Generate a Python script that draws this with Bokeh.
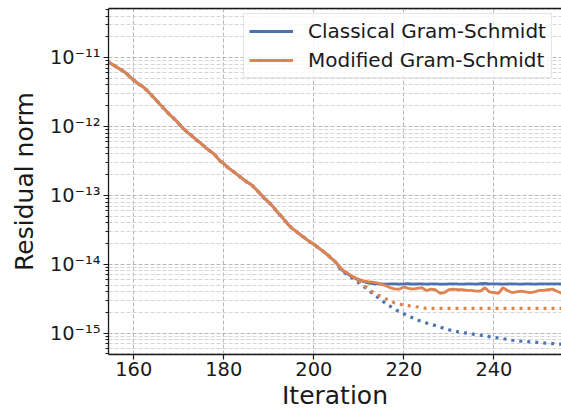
from bokeh.plotting import figure
from bokeh.models import (FixedTicker, CustomJSTickFormatter, Range1d, Legend,
                          LegendItem, LinearAxis)
from bokeh.embed import file_html
from bokeh.resources import INLINE

# ---- data ----
start_iteration = 154
# shared part of all curves, iterations 154..205
common_head = [8.91e-12, 8.13e-12, 7.41e-12, 6.76e-12, 6.17e-12, 5.37e-12, 4.68e-12,
               4.17e-12, 3.80e-12, 3.31e-12, 2.82e-12, 2.40e-12, 2.04e-12, 1.74e-12,
               1.48e-12, 1.29e-12, 1.10e-12, 9.33e-13, 8.13e-13, 7.24e-13, 6.31e-13,
               5.62e-13, 4.90e-13, 4.37e-13, 3.89e-13, 3.24e-13, 2.88e-13, 2.51e-13,
               2.24e-13, 2.00e-13, 1.78e-13, 1.58e-13, 1.45e-13, 1.26e-13, 1.07e-13,
               9.12e-14, 7.94e-14, 6.76e-14, 5.62e-14, 4.79e-14, 3.98e-14, 3.39e-14,
               3.02e-14, 2.69e-14, 2.40e-14, 2.14e-14, 1.95e-14, 1.74e-14, 1.55e-14,
               1.38e-14, 1.20e-14, 1.05e-14]
# tails, iterations 206..255
cgs_tail = [8.51e-15, 7.59e-15, 6.92e-15, 6.31e-15, 5.89e-15, 5.62e-15, 5.37e-15,
            5.25e-15, 5.19e-15, 5.20e-15, 5.16e-15, 5.21e-15, 5.18e-15, 5.15e-15,
            5.20e-15, 5.22e-15, 5.17e-15, 5.19e-15, 5.21e-15, 5.16e-15, 5.18e-15,
            5.20e-15, 5.17e-15, 5.15e-15, 5.19e-15, 5.21e-15, 5.18e-15, 5.16e-15,
            5.20e-15, 5.19e-15, 5.17e-15, 5.22e-15, 5.26e-15, 5.21e-15, 5.18e-15,
            5.20e-15, 5.17e-15, 5.19e-15, 5.21e-15, 5.18e-15, 5.16e-15, 5.20e-15,
            5.19e-15, 5.17e-15, 5.21e-15, 5.20e-15, 5.18e-15, 5.19e-15, 5.21e-15,
            5.20e-15]
mgs_tail = [8.71e-15, 7.76e-15, 7.08e-15, 6.46e-15, 6.03e-15, 5.75e-15, 5.62e-15,
            5.50e-15, 5.37e-15, 5.13e-15, 4.90e-15, 4.57e-15, 4.37e-15, 4.37e-15,
            4.68e-15, 4.47e-15, 4.37e-15, 4.47e-15, 4.57e-15, 4.17e-15, 4.37e-15,
            4.27e-15, 3.80e-15, 3.89e-15, 4.27e-15, 4.37e-15, 4.27e-15, 4.27e-15,
            4.17e-15, 4.17e-15, 4.07e-15, 4.07e-15, 4.57e-15, 3.98e-15, 3.89e-15,
            3.80e-15, 4.57e-15, 4.17e-15, 3.89e-15, 3.98e-15, 4.07e-15, 3.98e-15,
            3.89e-15, 3.98e-15, 4.17e-15, 4.17e-15, 4.27e-15, 4.37e-15, 4.07e-15,
            3.80e-15]
cgs_dotted_tail = [8.13e-15, 7.41e-15, 6.61e-15, 6.03e-15, 5.37e-15, 4.79e-15, 4.27e-15,
                   3.80e-15, 3.39e-15, 3.02e-15, 2.69e-15, 2.45e-15, 2.24e-15, 2.04e-15,
                   1.91e-15, 1.78e-15, 1.66e-15, 1.55e-15, 1.48e-15, 1.41e-15, 1.35e-15,
                   1.29e-15, 1.23e-15, 1.17e-15, 1.12e-15, 1.10e-15, 1.05e-15, 1.02e-15,
                   1.00e-15, 9.77e-16, 9.55e-16, 9.33e-16, 9.12e-16, 8.91e-16, 8.71e-16,
                   8.51e-16, 8.32e-16, 8.13e-16, 7.94e-16, 7.76e-16, 7.67e-16, 7.59e-16,
                   7.50e-16, 7.41e-16, 7.33e-16, 7.24e-16, 7.16e-16, 7.08e-16, 7.00e-16,
                   6.92e-16]
mgs_dotted_tail = [8.71e-15, 7.76e-15, 7.08e-15, 6.31e-15, 5.62e-15, 5.01e-15, 4.47e-15,
                   3.98e-15, 3.63e-15, 3.39e-15, 3.16e-15, 2.95e-15, 2.75e-15, 2.63e-15,
                   2.57e-15, 2.51e-15, 2.45e-15, 2.40e-15, 2.34e-15, 2.29e-15, 2.29e-15,
                   2.29e-15, 2.29e-15, 2.29e-15, 2.29e-15, 2.29e-15, 2.29e-15, 2.29e-15,
                   2.29e-15, 2.29e-15, 2.29e-15, 2.29e-15, 2.29e-15, 2.29e-15, 2.29e-15,
                   2.29e-15, 2.29e-15, 2.29e-15, 2.29e-15, 2.29e-15, 2.29e-15, 2.29e-15,
                   2.29e-15, 2.29e-15, 2.29e-15, 2.29e-15, 2.29e-15, 2.29e-15, 2.29e-15,
                   2.29e-15]
x_ticks = [160, 180, 200, 220, 240]
y_ticks = [1e-15, 1e-14, 1e-13, 1e-12, 1e-11]
y_minor_ticks = [m * d for d in [1e-16, 1e-15, 1e-14, 1e-13, 1e-12, 1e-11]
                 for m in range(2, 10)]
labels = ["Classical Gram-Schmidt", "Modified Gram-Schmidt"]

cgs = common_head + cgs_tail
mgs = common_head + mgs_tail
cgs_dot = common_head + cgs_dotted_tail
mgs_dot = common_head + mgs_dotted_tail
iterations = list(range(start_iteration, start_iteration + len(cgs)))

BLUE = "#4C72B0"
ORANGE = "#DD8452"
FONT = "DejaVu Sans"
TXT = "#1a1a1a"

p = figure(width=561, height=412, y_axis_type="log",
           x_range=Range1d(154.4, 255.0), y_range=Range1d(4.91e-16, 5.14e-11),
           output_backend="svg", toolbar_location=None)
p.min_border_left = 108
p.min_border_right = 0
p.min_border_top = 8
p.min_border_bottom = 58
p.outline_line_color = None
p.background_fill_color = "white"
p.border_fill_color = "white"

# axes
for ax in (p.xaxis[0], p.yaxis[0]):
    ax.axis_line_color = TXT
    ax.axis_line_width = 1.3
    ax.major_tick_line_color = TXT
    ax.major_tick_line_width = 1.2
    ax.major_tick_out = 5
    ax.major_tick_in = 0
    ax.major_label_text_font = FONT
    ax.major_label_text_font_size = "19.4px"
    ax.major_label_text_color = TXT
    ax.axis_label_text_font = FONT
    ax.axis_label_text_font_size = "25px"
    ax.axis_label_text_font_style = "normal"
    ax.axis_label_text_color = TXT

p.xaxis.ticker = FixedTicker(ticks=x_ticks)
p.xaxis.minor_tick_line_color = None
p.xaxis.major_label_standoff = 2
p.xaxis.axis_label = "Iteration"
p.xaxis.axis_label_standoff = 2

p.yaxis.ticker = FixedTicker(ticks=y_ticks, minor_ticks=y_minor_ticks)
p.yaxis.minor_tick_line_color = TXT
p.yaxis.minor_tick_line_width = 1.0
p.yaxis.minor_tick_out = 3
p.yaxis.minor_tick_in = 0
p.yaxis.major_label_standoff = 3
p.yaxis.axis_label = "Residual norm"
p.yaxis.axis_label_standoff = 8
p.yaxis.formatter = CustomJSTickFormatter(code="""
const e = Math.round(Math.log10(tick));
const m = {'-':'\u207b','0':'\u2070','1':'\u00b9','2':'\u00b2','3':'\u00b3',
           '4':'\u2074','5':'\u2075','6':'\u2076','7':'\u2077','8':'\u2078','9':'\u2079'};
return '10' + String(e).split('').map(c => m[c]).join('');
""")

top = LinearAxis(ticker=FixedTicker(ticks=[]), axis_line_color=TXT, axis_line_width=1.3,
                 major_tick_line_color=None, minor_tick_line_color=None,
                 major_label_text_font_size="0px", major_label_standoff=0)
p.add_layout(top, "above")

# grids
p.xgrid.grid_line_color = "#b0b0b0"
p.xgrid.grid_line_dash = "4 2"
p.xgrid.grid_line_width = 0.9
p.ygrid.grid_line_color = "#b0b0b0"
p.ygrid.grid_line_dash = "4 2"
p.ygrid.grid_line_width = 0.9
p.ygrid.minor_grid_line_color = "#d0d0d0"
p.ygrid.minor_grid_line_dash = "4 2"
p.ygrid.minor_grid_line_width = 0.9

# lines
r_cgs = p.line(iterations, cgs, line_color=BLUE, line_width=2.8)
r_cgs_dot = p.line(iterations, cgs_dot, line_color=BLUE, line_width=3.2,
                   line_dash="3 5")
r_mgs = p.line(iterations, mgs, line_color=ORANGE, line_width=2.8)
r_mgs_dot = p.line(iterations, mgs_dot, line_color=ORANGE, line_width=3.2,
                   line_dash="3 5")

legend = Legend(items=[LegendItem(label=labels[0], renderers=[r_cgs]),
                       LegendItem(label=labels[1], renderers=[r_mgs])],
                location=(135, 276))
legend.padding = 5
legend.spacing = 5
legend.glyph_width = 44
legend.glyph_height = 20
legend.label_standoff = 15
legend.label_text_font = FONT
legend.label_text_font_size = "20px"
legend.label_text_color = TXT
legend.background_fill_color = "white"
legend.background_fill_alpha = 0.8
legend.border_line_color = "#cccccc"
legend.border_line_width = 1
p.add_layout(legend)

open("out.html", "w").write(file_html(p, INLINE))
